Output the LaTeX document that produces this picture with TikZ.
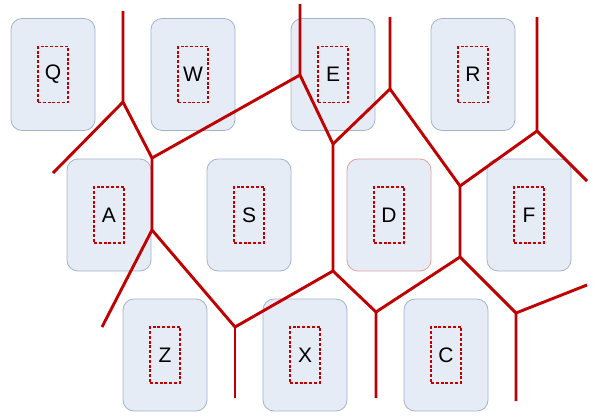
\documentclass[tikz,border=0pt]{standalone}
\usepackage{fontspec}
\setmainfont{Liberation Sans}
\usetikzlibrary{positioning}

\definecolor{keyfill}{HTML}{E6ECF6}
\definecolor{keyline}{HTML}{A3B3CC}
\definecolor{hotline}{HTML}{E3A0A0}
\definecolor{cutred}{HTML}{C00000}

\begin{document}
\begin{tikzpicture}[
    x=1pt, y=-1pt,
    key/.style={draw=keyline, fill=keyfill, rounded corners=11pt, line width=0.8pt, minimum width=84pt, minimum height=112pt, inner sep=0pt},
    hot/.style={key, draw=hotline},
    keycap/.style={draw=cutred, dash pattern=on 3pt off 1.8pt, line width=1.6pt, minimum width=30pt, minimum height=56pt, inner sep=0pt, font=\fontsize{21}{24}\selectfont},
    cut/.style={draw=cutred, line width=2.9pt, line join=round}
]
\useasboundingbox (0,0) rectangle (596,418);

\node[key] (q) at (53,74.5) {};
\node[key] (w) at (193,74.5) {};
\node[key] (e) at (333,74.5) {};
\node[key] (r) at (473,74.5) {};
\node[key] (a) at (109,215) {};
\node[key] (s) at (249,215) {};
\node[hot] (d) at (389,215) {};
\node[key] (f) at (529,215) {};
\node[key] (z) at (165,355) {};
\node[key] (x) at (305,355) {};
\node[key] (c) at (446,355) {};

\node[keycap] (qc) at (q) {Q};
\node[keycap] (wc) at (w) {W};
\node[keycap] (ec) at (e) {E};
\node[keycap] (rc) at (r) {R};
\node[keycap] (ac) at (a) {A};
\node[keycap] (sc) at (s) {S};
\node[keycap] (dc) at (d) {D};
\node[keycap] (fc) at (f) {F};
\node[keycap] (zc) at (z) {Z};
\node[keycap] (xc) at (x) {X};
\node[keycap] (cc) at (c) {C};

\coordinate (v1) at (123,102);
\coordinate (v2) at (152,158);
\coordinate (v3) at (300,75);
\coordinate (v4) at (152,230);
\coordinate (v5) at (333,144);
\coordinate (v6) at (390,89);
\coordinate (v7) at (333,271);
\coordinate (v8) at (460,186);
\coordinate (v9) at (537,131);
\coordinate (v10) at (460,257);
\coordinate (v11) at (235,327);
\coordinate (v12) at (376,312);
\coordinate (v13) at (516,313);

\coordinate (t1) at (123,11);
\coordinate (e1) at (53,173);
\coordinate (t3) at (300,4);
\coordinate (t6) at (390,17);
\coordinate (t9) at (537,17);
\coordinate (e9) at (587,181);
\coordinate (e4) at (102,327);
\coordinate (b11) at (235,398);
\coordinate (b12) at (376,398);
\coordinate (b13) at (516,401);
\coordinate (e13) at (587,285);

\draw[cut] (t1) -- (v1) -- (v2) -- (v3) -- (t3);
\draw[cut] (e1) -- (v1);
\draw[cut] (v2) -- (v4) -- (v11) -- (v7) -- (v5) -- (v3);
\draw[cut] (v5) -- (v6) -- (t6);
\draw[cut] (v6) -- (v8) -- (v9) -- (t9);
\draw[cut] (v9) -- (e9);
\draw[cut] (v8) -- (v10) -- (v13) -- (b13);
\draw[cut] (v13) -- (e13);
\draw[cut] (v4) -- (e4);
\draw[cut] (v11) -- (b11);
\draw[cut] (v7) -- (v12) -- (b12);
\draw[cut] (v12) -- (v10);
\end{tikzpicture}
\end{document}
